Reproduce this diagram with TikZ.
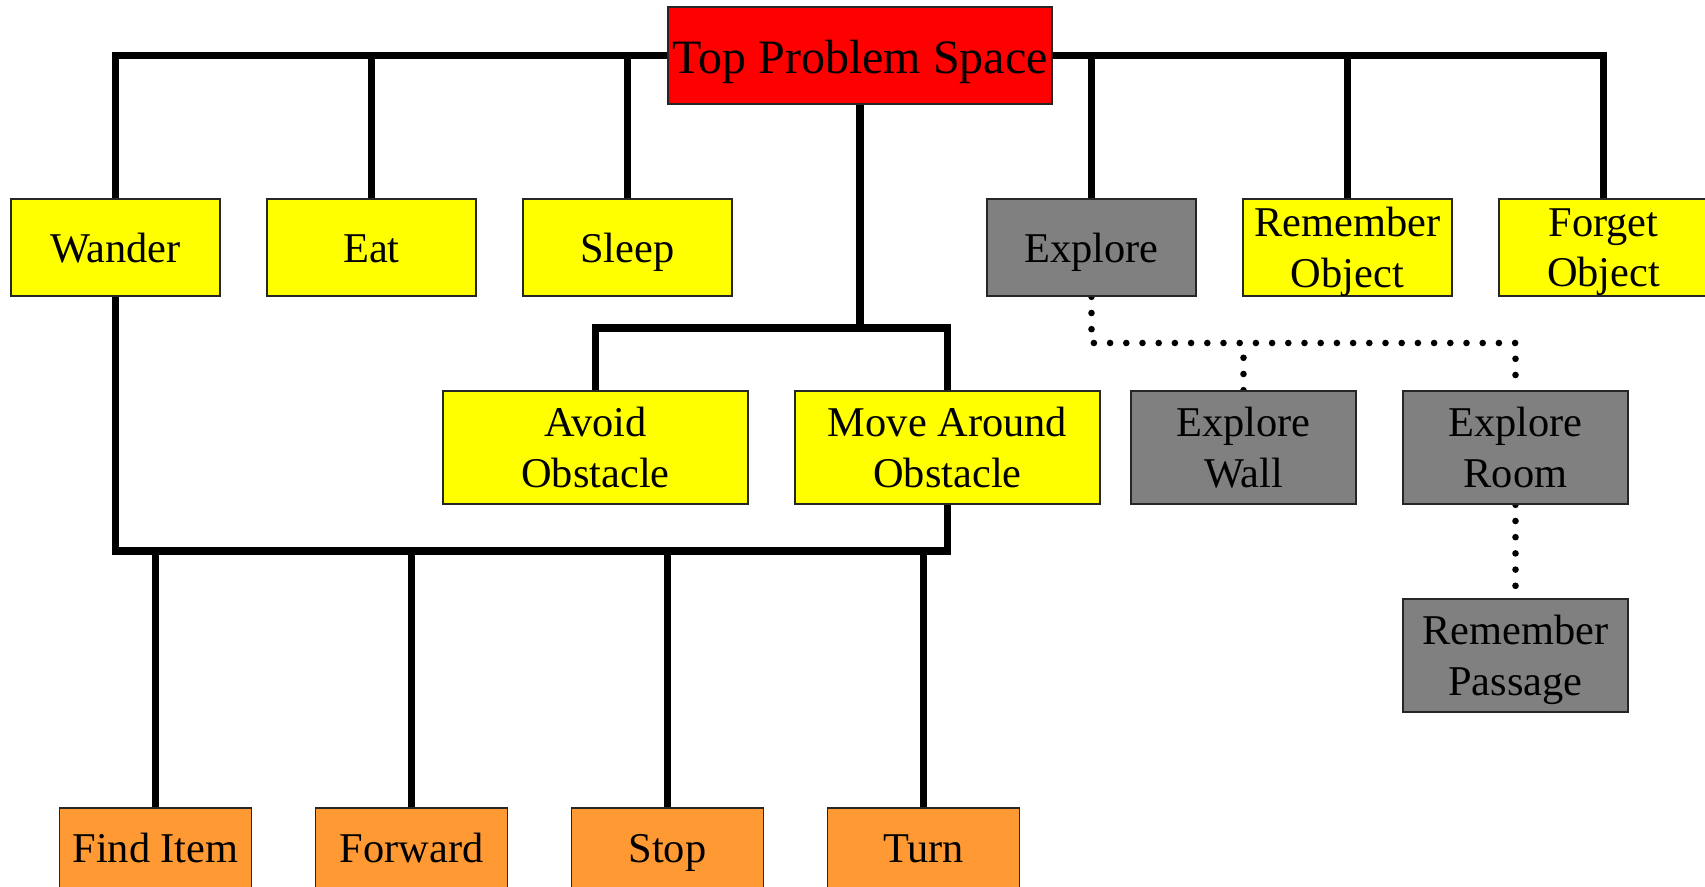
\documentclass[tikz,border=0pt]{standalone}
\usepackage{fontspec}
\setmainfont{Liberation Serif}
\definecolor{boxred}{HTML}{FF0000}
\definecolor{boxyellow}{HTML}{FFFF00}
\definecolor{boxgray}{HTML}{808080}
\definecolor{boxorange}{HTML}{FF9933}
\pgfdeclarelayer{background}
\pgfsetlayers{background,main}
\tikzset{
  box/.style={draw=black!85, line width=0.8pt, inner sep=0pt, align=center,
    font=\fontsize{21.2}{25.3}\selectfont, text depth=-2.2pt},
  one/.style={text height=15.5pt, text depth=0pt},
  small/.style={box, minimum width=104.5pt, minimum height=48.5pt},
  wide/.style={box, minimum width=152.5pt, minimum height=56.5pt},
  mid/.style={box, minimum width=112.5pt, minimum height=56.5pt},
  leaf/.style={box, fill=boxorange, minimum width=96pt, minimum height=48.5pt, text height=6.4pt, text depth=0pt},
  bus/.style={line width=3.6pt, line join=miter, line cap=rect},
  dots/.style={line width=3.3pt, line cap=round, dash pattern=on 0pt off 8.1pt},
}
\begin{document}
\begin{tikzpicture}[x=0.5pt, y=-0.5pt]
\useasboundingbox (0,0) rectangle (1705,887);
% nodes
\node[box, fill=boxred, minimum width=192pt, minimum height=48.5pt, text height=17.6pt, text depth=0pt,
  font=\fontsize{24}{29}\selectfont] (top) at (860,55.5) {Top Problem Space};
\node[small, one, fill=boxyellow] (wander) at (115.5,247.5) {Wander};
\node[small, one, fill=boxyellow] (eat) at (371.5,247.5) {Eat};
\node[small, one, fill=boxyellow] (sleep) at (627.5,247.5) {Sleep};
\node[small, one, fill=boxgray] (explore) at (1091.5,247.5) {Explore};
\node[small, fill=boxyellow] (remobj) at (1347.5,247.5) {Remember\\Object};
\node[small, fill=boxyellow] (forget) at (1603.5,247.5) {Forget\\Object};
\node[wide, fill=boxyellow] (avoid) at (595.5,447.5) {Avoid\\Obstacle};
\node[wide, fill=boxyellow] (move) at (947.5,447.5) {Move Around\\Obstacle};
\node[mid, fill=boxgray] (wall) at (1243.5,447.5) {Explore\\Wall};
\node[mid, fill=boxgray] (room) at (1515.5,447.5) {Explore\\Room};
\node[mid, fill=boxgray] (passage) at (1515.5,655.5) {Remember\\Passage};
\node[leaf] (find) at (155.5,856.5) {Find Item};
\node[leaf] (forward) at (411.5,856.5) {Forward};
\node[leaf] (stop) at (667.5,856.5) {Stop};
\node[leaf] (turn) at (923.5,856.5) {Turn};
\coordinate (j1) at (860,328);
\coordinate (j2) at (530,551);
\coordinate (j3) at (1300,343);
\begin{pgfonlayer}{background}
\draw[bus] (wander.north) -- (wander.north |- top.west) -- (forget.north |- top.west) -- (forget.north);
\draw[bus] (eat.north) -- (eat.north |- top.west);
\draw[bus] (sleep.north) -- (sleep.north |- top.west);
\draw[bus] (explore.north) -- (explore.north |- top.west);
\draw[bus] (remobj.north) -- (remobj.north |- top.west);
\draw[bus] (top.south) -- (top.south |- j1);
\draw[bus] (avoid.north) -- (avoid.north |- j1) -- (move.north |- j1) -- (move.north);
\draw[bus] (wander.south) -- (wander.south |- j2) -- (move.south |- j2) -- (move.south);
\draw[bus] (find.north) -- (find.north |- j2);
\draw[bus] (forward.north) -- (forward.north |- j2);
\draw[bus] (stop.north) -- (stop.north |- j2);
\draw[bus] (turn.north) -- (turn.north |- j2);
\draw[dots] (explore.south) -- (explore.south |- j3) -- (room.north |- j3) -- (room.north);
\draw[dots] (wall.north) -- (wall.north |- j3);
\draw[dots] (room.south) -- (passage.north);
\end{pgfonlayer}
\end{tikzpicture}
\end{document}
